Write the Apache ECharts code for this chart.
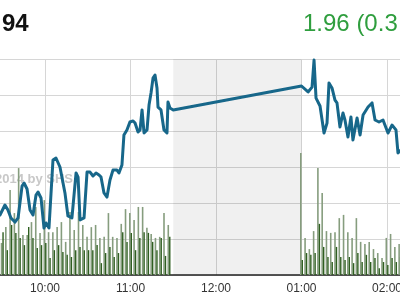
<!DOCTYPE html>
<html>
<head>
<meta charset="utf-8">
<script src="https://cdn.jsdelivr.net/npm/echarts@6/dist/echarts.min.js"></script>
<style>
html,body{margin:0;padding:0;background:#fff;}
#chart{width:400px;height:300px;}
</style>
</head>
<body>
<div id="chart"></div>
<script>
// ---- data ----
// price line: time in minutes after midnight, price value
const priceTimes = [568.4,571.9,574.0,576.1,578.9,581.1,583.9,585.3,587.4,589.5,591.6,593.7,595.1,597.2,599.3,600.7,602.8,604.2,605.6,607.7,610.5,614.0,616.1,618.9,621.8,623.2,624.6,627.4,629.5,631.6,633.7,635.8,637.9,639.3,641.4,643.5,645.6,647.7,650.5,651.9,654.0,655.4,657.5,659.6,661.8,663.2,665.3,666.7,668.1,669.5,671.6,673.0,674.4,675.8,677.2,678.6,679.3,681.4,683.5,685.6,686.3,687.7,690.0,
  780.0,784.6,787.4,788.8,790.2,793.0,795.8,797.9,799.3,801.4,803.5,804.9,807.0,809.1,810.5,812.6,814.7,816.1,819.0,821.1,823.2,826.7,829.5,831.6,834.4,837.2,840.7,843.5,846.3,847.7,849.8];
const priceVals = [643.33,643.89,643.61,643.17,642.94,643.17,644.94,645.11,644.78,643.61,643.33,644.44,644.61,644.28,642.61,642.89,642.61,642.72,646.39,646.50,646.00,644.56,643.28,643.17,645.67,645.44,643.06,643.17,645.72,645.72,645.50,645.67,645.56,645.44,644.56,644.33,645.28,645.83,645.83,645.67,646.11,647.78,648.06,648.50,648.56,648.44,647.94,648.06,649.17,647.89,648.06,649.44,650.11,650.94,651.11,650.39,649.33,649.17,648.06,647.89,649.61,649.28,649.17,
  650.50,650.17,650.44,651.94,649.83,649.39,647.89,648.44,650.67,650.39,649.72,649.56,648.22,649.00,648.61,647.67,648.78,647.50,648.72,647.78,648.89,649.33,649.56,648.61,648.50,648.61,647.89,648.33,648.06,646.78,646.94];

// volume bars: slot time (minutes after midnight)
const volTimes = [570,573,576,579,582,585,588,591,594,597,600,603,606,609,612,615,618,621,624,627,630,633,636,639,642,645,648,651,654,657,660,663,666,669,672,675,678,681,684,687,
  780,783,786,789,792,795,798,801,804,807,810,813,816,819,822,825,828,831,834,837,840,843,846,849];
const volLight = [8.9,13.3,23.6,17.2,29.7,11.1,11.1,14.7,18.9,11.7,20.8,11.9,11.9,13.3,14.7,9.2,17.5,12.5,17.5,13.9,10.6,13.3,13.9,10.3,10.6,17.2,10.6,10.3,14.2,18.3,17.2,15.3,18.9,18.9,13.1,11.4,10.3,10.6,17.2,13.9,
  33.9,10.3,7.2,12.2,29.7,22.8,12.2,11.7,11.9,15.8,16.7,11.9,10.3,15.8,9.2,8.6,9.2,7.2,6.1,4.7,10.3,11.4,7.8,8.6];
const volDark = [11.9,6.9,13.9,11.7,10.3,8.3,13.3,10.3,7.5,8.3,8.9,4.7,6.9,8.3,6.4,5.6,5.0,6.9,7.8,6.9,6.9,6.9,8.3,3.3,6.1,7.8,5.0,6.1,11.9,9.2,11.7,6.9,10.3,11.9,11.7,9.2,6.9,10.3,5.3,10.6,
  4.2,6.1,5.6,6.1,14.2,7.8,5.0,3.6,7.8,5.0,4.2,5.0,3.3,6.1,3.6,5.6,3.6,4.7,1.9,3.6,2.8,4.7,3.6,5.0];

const lunchBreak = [690, 780];
const lastPriceText = '94';
const changeText = '1.96 (0.3';
const watermark = '\u00A92014 by SHS';

// ---- chart ----
const chart = echarts.init(document.getElementById('chart'), null, {renderer: 'canvas'});
const FONT = '"Liberation Sans", Arial, sans-serif';

function fmtTime(v) {
  let h = Math.floor(v / 60), m = Math.round(v % 60);
  if (h > 12) h -= 12;
  return String(h).padStart(2, '0') + ':' + String(m).padStart(2, '0');
}

const option = {
  animation: false,
  backgroundColor: '#ffffff',
  textStyle: {fontFamily: FONT},
  grid: {left: -40.5, right: -29.75, top: 59, bottom: 25, containLabel: false, outerBoundsMode: 'none'},
  xAxis: {
    type: 'value', min: 540, max: 870, interval: 60,
    axisLine: {show: true, lineStyle: {color: '#222', width: 1.5}},
    axisTick: {show: false},
    axisLabel: {color: '#333', fontSize: 12, fontFamily: FONT, margin: 8, formatter: fmtTime},
    splitLine: {show: true, lineStyle: {color: '#d6d6d6', width: 1}}
  },
  yAxis: [
    {type: 'value', min: 640, max: 652, interval: 2,
      axisLine: {show: false}, axisTick: {show: false}, axisLabel: {show: false},
      splitLine: {show: true, lineStyle: {color: '#d6d6d6', width: 1}}},
    {type: 'value', min: 0, max: 60, interval: 10,
      axisLine: {show: false}, axisTick: {show: false}, axisLabel: {show: false},
      splitLine: {show: false}}
  ],
  graphic: [
    {type: 'text', z: 0, style: {x: 73, y: 179, text: watermark, fill: '#c8c8c8',
      font: 'bold 13px ' + FONT, textAlign: 'right', textVerticalAlign: 'middle'}},
    {type: 'text', z: 10, style: {x: 2, y: 24, text: lastPriceText, fill: '#111',
      font: 'bold 24px ' + FONT, textAlign: 'left', textVerticalAlign: 'middle'}},
    {type: 'text', z: 10, style: {x: 303, y: 24, text: changeText, fill: '#2f9e3e',
      font: '24px ' + FONT, textAlign: 'left', textVerticalAlign: 'middle'}}
  ],
  series: [
    {type: 'bar', yAxisIndex: 1, z: 2, barWidth: 1.6, barGap: '0%',
      itemStyle: {color: '#869d7e'},
      data: volTimes.map((t, i) => [t, volLight[i]])},
    {type: 'bar', yAxisIndex: 1, z: 2, barWidth: 1.4, barGap: '0%',
      itemStyle: {color: '#2f5f20'},
      data: volTimes.map((t, i) => [t, volDark[i]])},
    {type: 'line', yAxisIndex: 0, z: 3, symbol: 'none', smooth: false,
      lineStyle: {color: '#17678a', width: 3, join: 'round', cap: 'round'},
      data: priceTimes.map((t, i) => [t, priceVals[i]]),
      markArea: {silent: true, itemStyle: {color: 'rgba(0,0,0,0.06)'},
        data: [[{xAxis: lunchBreak[0]}, {xAxis: lunchBreak[1]}]]}}
  ]
};
chart.setOption(option);
</script>
</body>
</html>
